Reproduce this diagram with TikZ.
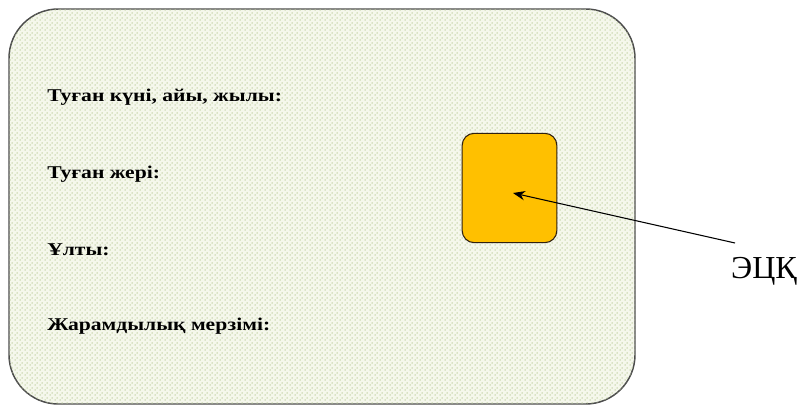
\documentclass[tikz,border=0pt]{standalone}
\usepackage{fontspec}
\setmainfont{Liberation Serif}
\newfontfamily\cardfont[FakeStretch=1.2]{Liberation Serif}
\usetikzlibrary{patterns.meta,arrows.meta}

\definecolor{cardbg}{RGB}{245,247,236}
\definecolor{carddot}{RGB}{190,206,158}
\definecolor{chipfill}{RGB}{255,192,0}

\tikzdeclarepattern{
  name=carddots,
  type=uncolored,
  bounding box={(0pt,0pt) and (3.4pt,3.4pt)},
  tile size={(3.4pt,3.4pt)},
  code={
    \fill (0.85pt,0.85pt) circle (0.62pt);
    \fill (2.55pt,2.55pt) circle (0.62pt);
  }
}

\tikzset{
  field/.style={anchor=base west, inner sep=0pt, font={\cardfont\fontsize{13.5}{13.5}\selectfont\bfseries}},
}

\begin{document}
\begin{tikzpicture}[x=0.75pt, y=-0.75pt]

\useasboundingbox (0,0) rectangle (799,406);

% card
\path [draw=black!70, line width=1.1pt, fill=cardbg, rounded corners=37pt,
postaction={pattern=carddots, pattern color=carddot}]
 (9,9) rectangle (635,404);

\node [field] (birth) at (47,102) {Туған күні, айы, жылы:};
\node [field] (place) at (47,178) {Туған жері:};
\node [field] (nation) at (47,255) {Ұлты:};
\node [field] (expiry) at (47,330) {Жарамдылық мерзімі:};

% chip
\node [draw=black!75!brown, fill=chipfill, rounded corners=9pt, line width=0.8pt,
minimum width=71pt, minimum height=82pt, inner sep=0pt] (chip) at (509.5,188) {};
\coordinate (chip-c) at (513,193);

\node [anchor=base, inner sep=0pt, font={\fontsize{24}{24}\selectfont}] (ecq) at (764,278) {ЭЦҚ};
\coordinate (ecq-tail) at (735,243);

\draw [-{Stealth[length=9pt, width=7pt]}, line width=0.8pt] (ecq-tail) -- (chip-c);

\end{tikzpicture}
\end{document}
